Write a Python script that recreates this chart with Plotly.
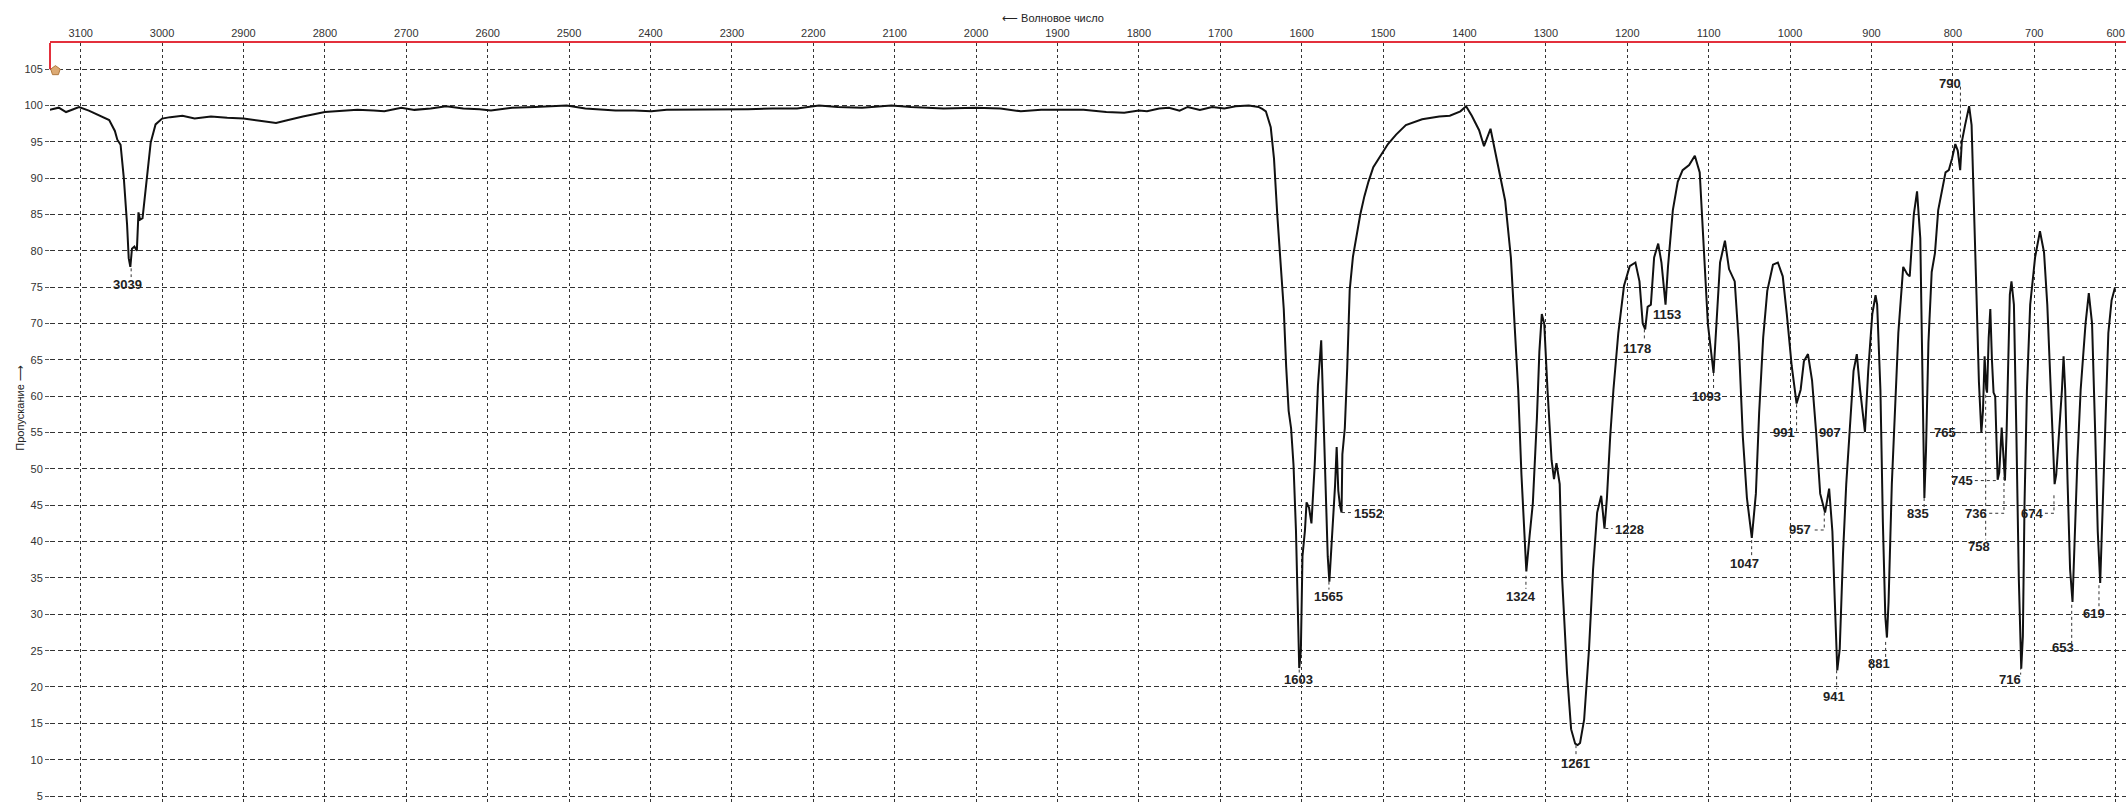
import plotly.graph_objects as go

# ---------------- data ----------------
wavenumber = [
    3138, 3132, 3127, 3118, 3110, 3102, 3090, 3078, 3065, 3058, 3055, 3051, 3047, 3043, 3041, 3039,
    3037, 3034, 3031, 3029, 3027, 3024, 3020, 3017, 3014, 3008, 3000, 2990, 2975, 2960, 2940, 2920,
    2900, 2880, 2860, 2845, 2827, 2800, 2780, 2760, 2740, 2727, 2706, 2690, 2670, 2651, 2630, 2610,
    2596, 2570, 2542, 2520, 2503, 2480, 2460, 2443, 2420, 2399, 2380, 2340, 2300, 2280, 2250, 2220,
    2193, 2170, 2140, 2104, 2080, 2066, 2040, 2000, 1970, 1945, 1920, 1890, 1868, 1840, 1818, 1800,
    1790, 1775, 1763, 1750, 1740, 1725, 1710, 1695, 1681, 1665, 1653, 1648, 1644, 1638, 1634, 1630,
    1626, 1622, 1619, 1617, 1616, 1613, 1610, 1607, 1605, 1603, 1601, 1599, 1596, 1594, 1591, 1588,
    1584, 1580, 1576, 1573, 1570, 1568, 1566, 1564, 1562, 1559, 1557, 1555, 1553, 1551, 1550, 1547,
    1544, 1541, 1537, 1532, 1528, 1523, 1518, 1512, 1504, 1494, 1484, 1472, 1452, 1431, 1418, 1405,
    1398, 1391, 1382, 1376, 1368, 1362, 1356, 1350, 1343, 1339, 1334, 1330, 1327, 1324, 1320, 1316,
    1311, 1308, 1305, 1302, 1298, 1293, 1290, 1287, 1283, 1280, 1274, 1269, 1264, 1261, 1258, 1253,
    1247, 1242, 1237, 1232, 1228, 1225, 1221, 1217, 1211, 1204, 1197, 1190, 1185, 1181, 1178, 1175,
    1171, 1167, 1162, 1158, 1153, 1150, 1144, 1138, 1132, 1124, 1117, 1111, 1106, 1101, 1094, 1091,
    1086, 1080, 1075, 1068, 1063, 1058, 1053, 1047, 1042, 1038, 1033, 1028, 1021, 1015, 1009, 1004,
    998, 992, 987, 983, 978, 973, 968, 963, 957, 952, 948, 945, 942, 939, 935, 931,
    926, 922, 918, 914, 908, 904, 899, 895, 893, 889, 886, 883, 881, 879, 875, 871,
    867, 861, 856, 853, 848, 844, 840, 838, 835, 833, 830, 826, 822, 818, 813, 809,
    805, 801, 797, 794, 791, 789, 785, 780, 777, 774, 771, 768, 765, 763, 761, 759,
    758, 756, 754, 752, 750, 748, 746, 745, 743, 740, 738, 736, 734, 732, 730, 728,
    725, 722, 719, 716, 714, 712, 709, 705, 699, 693, 688, 684, 680, 675, 673, 669,
    666, 664, 662, 659, 656, 653, 651, 647, 643, 637, 633, 629, 625, 622, 619, 617,
    613, 609, 605, 601,
]
transmittance = [
    99.4, 99.6, 99.7, 99.1, 99.5, 99.8, 99.3, 98.7, 98.0, 96.5, 95.3, 94.6, 90.0, 83.6, 79.0, 77.8,
    80.3, 80.6, 80.0, 85.3, 84.3, 84.5, 88.6, 92.0, 94.9, 97.4, 98.2, 98.4, 98.6, 98.2, 98.5, 98.3,
    98.2, 97.9, 97.6, 98.0, 98.5, 99.1, 99.3, 99.4, 99.3, 99.2, 99.7, 99.4, 99.6, 99.9, 99.6, 99.5,
    99.3, 99.7, 99.8, 99.9, 100.0, 99.6, 99.4, 99.3, 99.3, 99.2, 99.4, 99.4, 99.5, 99.5, 99.6, 99.6,
    100.0, 99.8, 99.7, 100.0, 99.8, 99.7, 99.6, 99.7, 99.6, 99.2, 99.4, 99.4, 99.4, 99.1, 99.0, 99.3,
    99.2, 99.6, 99.7, 99.3, 99.8, 99.4, 99.8, 99.6, 99.9, 100.0, 99.8, 99.5, 99.2, 97.0, 92.7, 85.0,
    78.5, 72.0, 64.0, 60.2, 58.0, 55.6, 50.5, 41.5, 31.7, 22.6, 25.0, 38.0, 41.5, 45.4, 44.7, 42.5,
    50.5, 61.5, 67.7, 55.6, 46.0, 38.0, 34.5, 38.0, 42.0, 47.7, 53.0, 47.0, 45.0, 44.0, 52.0, 55.6,
    64.0, 74.6, 79.2, 82.5, 85.0, 87.5, 89.5, 91.5, 93.0, 94.7, 96.0, 97.3, 98.1, 98.5, 98.6, 99.2,
    99.9, 98.6, 96.6, 94.4, 96.8, 93.4, 90.1, 86.9, 79.1, 70.6, 60.9, 49.2, 41.4, 35.9, 40.8, 45.3,
    57.0, 66.1, 71.3, 70.0, 60.9, 51.2, 48.6, 50.8, 47.9, 34.9, 21.9, 14.2, 12.2, 12.0, 12.3, 15.5,
    25.2, 36.2, 44.0, 46.3, 41.8, 46.0, 54.4, 60.9, 68.7, 75.2, 77.9, 78.4, 75.8, 70.0, 69.2, 72.3,
    72.6, 79.1, 81.0, 78.4, 72.6, 77.8, 85.6, 89.5, 91.1, 91.8, 93.1, 90.8, 80.4, 70.0, 63.2, 68.7,
    78.4, 81.4, 77.5, 75.8, 67.4, 54.4, 46.0, 40.5, 46.6, 57.7, 68.1, 74.5, 78.1, 78.4, 76.5, 71.3,
    64.2, 59.0, 60.9, 64.8, 65.8, 62.2, 55.1, 46.6, 44.0, 47.3, 41.4, 31.7, 22.3, 25.2, 38.2, 47.9,
    56.4, 63.5, 65.8, 60.9, 55.1, 63.5, 71.3, 73.9, 72.6, 60.9, 42.7, 29.7, 26.8, 31.7, 47.9, 59.0,
    68.7, 77.8, 76.8, 76.5, 85.0, 88.2, 81.7, 67.4, 46.0, 52.5, 67.4, 77.1, 79.7, 85.6, 88.8, 90.8,
    91.1, 92.7, 94.7, 93.8, 91.1, 95.0, 97.3, 99.9, 97.3, 87.0, 74.0, 62.0, 55.0, 58.0, 65.5, 61.0,
    60.5, 68.0, 72.0, 65.0, 60.5, 60.0, 52.0, 48.5, 49.5, 55.7, 52.0, 48.4, 55.0, 65.0, 74.0, 75.8,
    72.6, 55.0, 35.0, 22.5, 27.0, 45.0, 60.9, 72.6, 79.1, 82.7, 79.8, 72.6, 60.9, 47.9, 49.2, 55.6,
    60.9, 65.5, 60.9, 47.9, 36.2, 31.7, 38.2, 51.2, 60.9, 70.0, 74.2, 70.0, 54.4, 41.4, 34.3, 41.4,
    57.7, 68.7, 73.2, 74.9,
]

peak_labels = ["3039", "1603", "1565", "1552", "1324", "1261", "1228", "1178", "1153", "1093",
               "1047", "991", "957", "941", "907", "881", "835", "790", "765", "758",
               "745", "736", "716", "674", "653", "619"]

x_ticks = list(range(600, 3200, 100))
y_ticks = list(range(5, 110, 5))

# ---------------- label placement (layout only) ----------------
# label -> (text x, text y, xanchor, leader polyline)
label_place = {
    "3039": (3043, 75.4, "center", [(3038, 77.6), (3038, 76.4)]),
    "1603": (1604, 21.0, "center", [(1603, 22.4), (1603, 21.8)]),
    "1565": (1567, 32.5, "center", [(1566.5, 34.5), (1566.5, 33.4)]),
    "1552": (1538, 43.9, "left", [(1550.5, 44.0), (1538, 44.0)]),
    "1324": (1331, 32.5, "center", [(1324.5, 35.3), (1324.5, 33.5)]),
    "1261": (1264, 9.5, "center", [(1263, 12.0), (1263, 10.6)]),
    "1228": (1218, 41.6, "left", [(1227, 41.8), (1218, 41.8)]),
    "1178": (1188.5, 66.6, "center", [(1179, 69.2), (1179, 67.7)]),
    "1153": (1150.6, 71.2, "center", []),
    "1093": (1103, 59.9, "center", [(1094, 63.2), (1094, 60.8)]),
    "1047": (1055.8, 37.0, "center", [(1047.2, 40.2), (1047.2, 37.9)]),
    "991": (992, 55.0, "right", [(992, 58.9), (992, 55.0)]),
    "957": (972, 41.6, "right", [(958, 44.0), (958, 41.6), (972, 41.6)]),
    "941": (946, 18.7, "center", [(942.8, 22.3), (942.8, 19.7)]),
    "907": (934.6, 55.0, "right", [(934.6, 55.0), (908.8, 55.0)]),
    "881": (890.8, 23.3, "center", [(882.6, 26.2), (882.6, 24.1)]),
    "835": (843, 43.9, "center", [(835.3, 46.0), (835.3, 44.6)]),
    "790": (804, 103.0, "center", [(790.7, 102.6), (790.7, 93.0)]),
    "765": (793.4, 55.0, "right", [(793.4, 55.0), (766.7, 55.0)]),
    "758": (767.5, 39.3, "center", [(759.7, 60.2), (759.7, 40.3)]),
    "745": (773, 48.4, "right", [(773, 48.4), (747.2, 48.4)]),
    "736": (755.3, 43.9, "right", [(755.3, 43.9), (737.2, 43.9), (737.2, 48.9)]),
    "716": (729.5, 21.1, "center", [(716.7, 22.8), (716.7, 21.7)]),
    "674": (686.9, 43.9, "right", [(686.9, 43.9), (675.8, 43.9), (675.8, 46.6)]),
    "653": (664.4, 25.5, "center", [(654, 31.3), (654, 26.0)]),
    "619": (626.3, 30.1, "center", [(620.5, 34.0), (620.5, 31.0)]),
}

FONT = "Liberation Sans, Arial, sans-serif"
RED = "#e3303c"

fig = go.Figure()
fig.add_trace(go.Scatter(
    x=wavenumber, y=transmittance, mode="lines",
    line=dict(color="#111111", width=2), hoverinfo="skip",
))
# small cursor marker at the top-left corner
fig.add_trace(go.Scatter(
    x=[3131], y=[104.8], mode="markers",
    marker=dict(size=10, color="#dcaa74", line=dict(color="#b07a40", width=1), symbol="pentagon"),
    hoverinfo="skip",
))

shapes = []
annotations = []
for lab in peak_labels:
    tx, ty, anchor, pts = label_place[lab]
    annotations.append(dict(
        x=tx, y=ty, xref="x", yref="y", text=lab, showarrow=False,
        xanchor=anchor, yanchor="middle",
        font=dict(family=FONT, size=13, color="#222222", weight="bold"),
    ))
    if len(pts) >= 2:
        path = "M " + " L ".join(f"{px},{py}" for px, py in pts)
        shapes.append(dict(type="path", path=path, xref="x", yref="y",
                           line=dict(color="#333333", width=1, dash="dot")))

# red left segment (from 105 up to the top edge)
shapes.append(dict(type="line", xref="paper", yref="y", x0=0, x1=0, y0=105, y1=108.6,
                   line=dict(color=RED, width=2)))

annotations.append(dict(
    x=0.483, y=1.033, xref="paper", yref="paper", text="⟵ Волновое число",
    showarrow=False, xanchor="center", yanchor="middle",
    font=dict(family=FONT, size=11, color="#222222"),
))
annotations.append(dict(
    x=-0.0145, y=0.52, xref="paper", yref="paper", text="Пропускание ⟶",
    showarrow=False, textangle=-90, xanchor="center", yanchor="middle",
    font=dict(family=FONT, size=11, color="#222222"),
))

fig.update_layout(
    width=2126, height=803,
    margin=dict(l=50, r=0, t=43, b=0),
    plot_bgcolor="white", paper_bgcolor="white",
    showlegend=False,
    shapes=shapes, annotations=annotations,
    xaxis=dict(
        range=[3137.7, 587.3], side="top",
        tickvals=x_ticks, ticktext=[str(v) for v in x_ticks],
        tickfont=dict(family=FONT, size=11, color="#333333"),
        ticks="", showline=True, linecolor=RED, linewidth=2, mirror=False,
        showgrid=True, gridcolor="#333333", gridwidth=1, griddash="3px,3px",
        zeroline=False,
    ),
    yaxis=dict(
        range=[4.04, 108.6],
        tickvals=y_ticks, ticktext=[str(v) for v in y_ticks],
        tickfont=dict(family=FONT, size=11, color="#333333"),
        ticks="outside", ticklen=4, tickcolor="#555555",
        showline=False, showgrid=True, gridcolor="#333333", gridwidth=1,
        griddash="5px,3px", zeroline=False,
    ),
)

fig.write_html(
    "out.html",
    config={"displayModeBar": False},
    post_script="document.body.style.margin='0';document.body.style.overflow='hidden';",
)
